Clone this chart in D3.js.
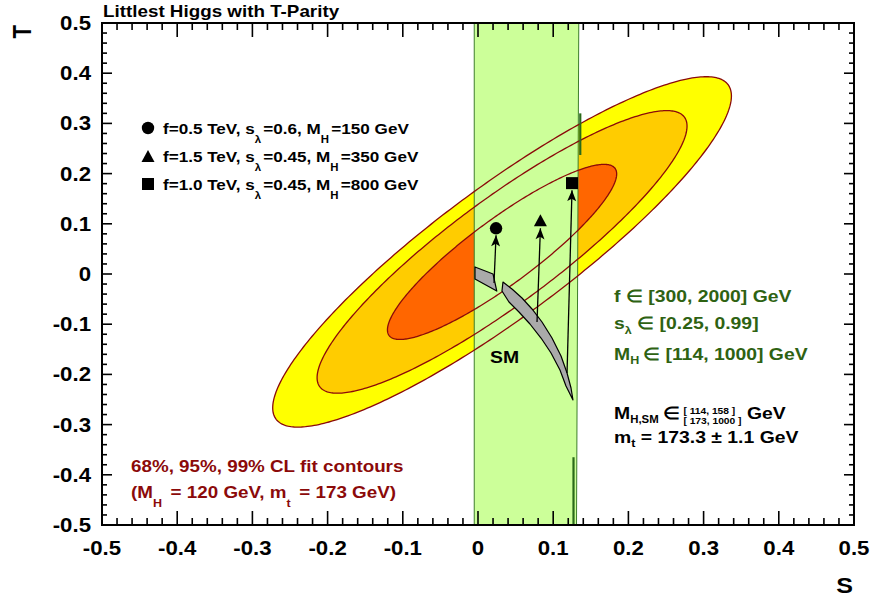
<!DOCTYPE html>
<html><head><meta charset="utf-8">
<script src="https://cdn.jsdelivr.net/npm/d3@7"></script>
<style>body{margin:0;background:#fff}svg{display:block}text{font-family:"Liberation Sans",Arial,Helvetica,sans-serif;font-weight:bold;white-space:pre}</style>
</head><body><svg id="c" width="872" height="605"></svg>
<script>
// ---------- data ----------
const axisTicks = [-0.5,-0.4,-0.3,-0.2,-0.1,0,0.1,0.2,0.3,0.4,0.5];
const axisTickLabels = ["-0.5","-0.4","-0.3","-0.2","-0.1","0","0.1","0.2","0.3","0.4","0.5"];
const minorTicks = d3.range(-25,26).map(i=>i*0.02);
// fit result in (S,T): centre, widths, correlation; chi2 levels of the contours
const fitCenter = [0.032, 0.044];
const fitSigma = [0.1005, 0.115];
const fitRho = 0.89;
const clNames = ["99%","95%","68%"];
const clLevels = [9.21, 5.99, 2.30];
// T-parity band (S,T corners)
const bandPoly = [[-0.005,0.5],[0.134,0.5],[0.131,-0.5],[-0.005,-0.5]];
const bandEdgeSegs = [[[0.136,0.32],[0.136,0.237]],[[0.127,-0.365],[0.127,-0.5]]];
// SM prediction pieces
const smPiece1 = [[-0.004,0.014],[0.020,0.000],[0.025,-0.034],[-0.004,-0.010]];
const smPiece2 = [[0.0332,-0.0159],[0.0452,-0.0299],[0.0585,-0.0478],[0.0718,-0.0697],[0.0851,-0.0956],[0.0984,-0.1275],[0.1104,-0.1633],[0.1184,-0.1972],[0.1237,-0.2271],[0.1263,-0.2510],
                  [0.1170,-0.2231],[0.1090,-0.1912],[0.0971,-0.1574],[0.0838,-0.1275],[0.0691,-0.0996],[0.0545,-0.0757],[0.0412,-0.0558],[0.0319,-0.0339]];
// benchmark points
const markerTypes = ["circle","triangle","square"];
const markerPos = [[0.024,0.091],[0.083,0.105],[0.125,0.181]];
const arrowFrom = [[0.0213,-0.018],[0.0785,-0.0956],[0.1184,-0.1972]];
const arrowTo = [[0.024,0.077],[0.083,0.091],[0.125,0.167]];
const legendTexts = [
  [["f=0.5 TeV, s"],["λ","sub"],["=0.6, M"],["H","sub"],["=150 GeV"]],
  [["f=1.5 TeV, s"],["λ","sub"],["=0.45, M"],["H","sub"],["=350 GeV"]],
  [["f=1.0 TeV, s"],["λ","sub"],["=0.45, M"],["H","sub"],["=800 GeV"]]
];

// ---------- setup ----------
const SX = 1.14;
const svg = d3.select("#c");
const x = d3.scaleLinear().domain([-0.5,0.5]).range([102,854]);
const y = d3.scaleLinear().domain([-0.5,0.5]).range([525,23]);
const line = d3.line().x(d=>x(d[0])).y(d=>y(d[1]));
const fillCol = {"99%":"#ffff00","95%":"#ffcc00","68%":"#ff6600"};
const darkRed = "#8b0a0a", green = "#2e6212";

const defs = svg.append("defs");
defs.append("clipPath").attr("id","frame").append("rect").attr("x",102).attr("y",23).attr("width",752).attr("height",502);
const plot = svg.append("g").attr("clip-path","url(#frame)");

function ellipsePts(k){
  const a=Math.sqrt(k), pts=[];
  for(let i=0;i<=360;i++){
    const th=i*Math.PI/180, u=Math.cos(th), v=Math.sin(th);
    pts.push([fitCenter[0]+a*fitSigma[0]*u, fitCenter[1]+a*fitSigma[1]*(fitRho*u+Math.sqrt(1-fitRho*fitRho)*v)]);
  }
  return pts;
}
clLevels.forEach((k,i)=>plot.append("path").attr("d",line(ellipsePts(k))+"Z").attr("fill",fillCol[clNames[i]]));
plot.append("path").attr("d",line(bandPoly)+"Z").attr("fill","#ccff99").attr("stroke","#3d7f2a").attr("stroke-width",1);
clLevels.forEach(k=>plot.append("path").attr("d",line(ellipsePts(k))+"Z").attr("fill","none").attr("stroke",darkRed).attr("stroke-width",1.3));
bandEdgeSegs.forEach(s=>plot.append("path").attr("d",line(s)).attr("stroke","#2a6a1a").attr("stroke-width",2.2));
[smPiece1,smPiece2].forEach(p=>plot.append("path").attr("d",line(p)+"Z").attr("fill","#aaaaaa").attr("stroke","#000").attr("stroke-width",1.2).attr("stroke-linejoin","round"));

// arrows
arrowFrom.forEach((f,i)=>{
  const t = arrowTo[i];
  const x1=x(f[0]),y1=y(f[1]),x2=x(t[0]),y2=y(t[1]);
  plot.append("line").attr("x1",x1).attr("y1",y1).attr("x2",x2).attr("y2",y2).attr("stroke","#000").attr("stroke-width",1.3);
  const ang=Math.atan2(y2-y1,x2-x1), L=11, W=4.5;
  const bx=x2-L*Math.cos(ang), by=y2-L*Math.sin(ang);
  const px=-Math.sin(ang), py=Math.cos(ang);
  plot.append("path").attr("d",`M${x2},${y2}L${bx+W*px},${by+W*py}L${bx+2.5*Math.cos(ang)},${by+2.5*Math.sin(ang)}L${bx-W*px},${by-W*py}Z`).attr("fill","#000");
});
function marker(g,type,cx,cy){
  if(type==="circle") g.append("circle").attr("cx",cx).attr("cy",cy).attr("r",6.2).attr("fill","#000");
  else if(type==="triangle") g.append("path").attr("d",`M${cx},${cy-7}L${cx+6.5},${cy+5}L${cx-6.5},${cy+5}Z`).attr("fill","#000");
  else g.append("rect").attr("x",cx-6).attr("y",cy-6).attr("width",12).attr("height",12).attr("fill","#000");
}
markerPos.forEach((p,i)=>marker(plot,markerTypes[i],x(p[0]),y(p[1])));

// ---------- text helper ----------
function rich(px,py,segs,size,color,subSize,subDy,subGap){
  const g = svg.append("g").attr("transform",`translate(${px},${py}) scale(${SX},1)`).attr("fill",color);
  let cur=0;
  segs.forEach(s=>{
    if(s[1]==="stack"){
      const a=g.append("text").attr("x",cur).attr("y",-5).attr("font-size",9).text(s[0]);
      const b=g.append("text").attr("x",cur).attr("y",5).attr("font-size",9).text(s[2]);
      cur += Math.max(a.node().getComputedTextLength(), b.node().getComputedTextLength());
      return;
    }
    const sub = s[1]==="sub";
    const t=g.append("text").attr("x",cur).attr("y",sub?subDy:0).attr("font-size",sub?subSize:size).text(s[0]);
    cur += t.node().getComputedTextLength() + (sub? (subGap||0):0);
  });
  return g;
}

// title & axis labels
rich(103,17,[["Littlest Higgs with T-Parity"]],16.5,"#000");
svg.append("text").attr("transform",`translate(31,25) scale(${SX},1) rotate(-90)`).attr("text-anchor","end").attr("font-size",22).text("T");
svg.append("g").attr("transform",`translate(853,593) scale(${SX},1)`).append("text").attr("text-anchor","end").attr("font-size",22).text("S");

// legend
legendTexts.forEach((segs,i)=>{
  const yy = 128 + i*28;
  marker(svg,markerTypes[i],148,yy+ (i===1?1:0));
  rich(163,yy+5.5,segs,15,"#000",10,9,2);
});

// right-side annotations
rich(614,302,[["f ∈ [300, 2000] GeV"]],17,green);
rich(614,329,[["s"],["λ","sub"],[" ∈ [0.25, 0.99]"]],17,green,11,5);
rich(614,360,[["M"],["H","sub"],["\u2009∈ [114, 1000] GeV"]],17,green,11,4);
rich(614,419,[["M"],["H,SM","sub"],["\u2009∈\u2009"],["[ 114, 158 ]","stack","[ 173, 1000 ]"],[" GeV"]],17,"#000",10,4);
rich(614,443,[["m"],["t","sub"],[" = 173.3 ± 1.1 GeV"]],17,"#000",11,4);
// bottom-left annotations
rich(131,472,[["68%, 95%, 99% CL fit contours"]],16.5,darkRed);
rich(131,498,[["(M"],["H","sub"],[" = 120 GeV, m"],["t","sub"],[" = 173 GeV)"]],16.5,darkRed,11,9,3);
// SM label
rich(490,363,[["SM"]],17,"#000");

// ---------- axes ----------
const ax = svg.append("g").attr("stroke","#000").attr("stroke-width",1.6);
function ticks(vals,len,side){
  vals.forEach(v=>{
    if(side==="b") ax.append("line").attr("x1",x(v)).attr("x2",x(v)).attr("y1",525).attr("y2",525-len);
    if(side==="t") ax.append("line").attr("x1",x(v)).attr("x2",x(v)).attr("y1",23).attr("y2",23+len);
    if(side==="l") ax.append("line").attr("y1",y(v)).attr("y2",y(v)).attr("x1",102).attr("x2",102+len);
    if(side==="r") ax.append("line").attr("y1",y(v)).attr("y2",y(v)).attr("x1",854).attr("x2",854-len);
  });
}
const minorOnly = minorTicks.filter(v=>Math.abs(Math.round(v*10)-v*10)>1e-6);
["b","t"].forEach(a=>{ticks(axisTicks,14,a);ticks(minorOnly,7,a);});
["l","r"].forEach(a=>{ticks(axisTicks,10,a);ticks(minorOnly,5,a);});
svg.append("rect").attr("x",102).attr("y",23).attr("width",752).attr("height",502).attr("fill","none").attr("stroke","#000").attr("stroke-width",2);
axisTicks.forEach((v,i)=>{
  svg.append("g").attr("transform",`translate(${x(v)},555) scale(${SX},1)`).append("text").attr("text-anchor","middle").attr("font-size",19.5).text(axisTickLabels[i]);
  svg.append("g").attr("transform",`translate(91,${y(v)+7}) scale(${SX},1)`).append("text").attr("text-anchor","end").attr("font-size",19.5).text(axisTickLabels[i]);
});
</script></body></html>
